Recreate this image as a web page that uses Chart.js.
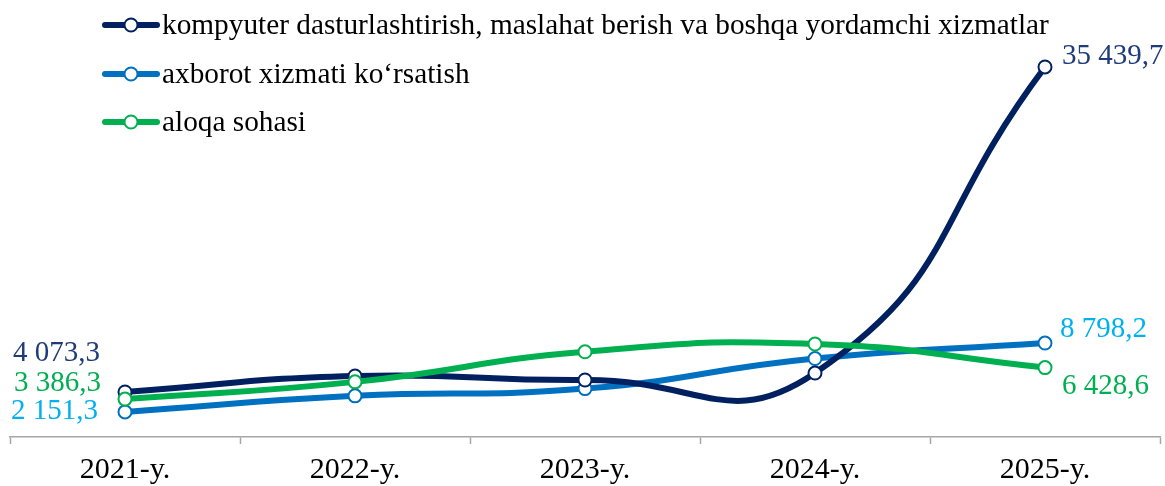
<!DOCTYPE html>
<html>
<head>
<meta charset="utf-8">
<script src="https://cdn.jsdelivr.net/npm/chart.js@4"></script>
<style>
  html, body { margin: 0; padding: 0; background: #ffffff; }
  #wrap { width: 1165px; height: 486px; position: relative; }
</style>
</head>
<body>
<div id="wrap"><canvas id="itgraph"></canvas></div>
<script>
// data (first and last years are labelled, the rest are estimates)
let years = ["2021-y.", "2022-y.", "2023-y.", "2024-y.", "2025-y."];
let names = [
    "kompyuter dasturlashtirish, maslahat berish va boshqa yordamchi xizmatlar",
    "axborot xizmati ko\u2018rsatish",
    "aloqa sohasi"
];
let kompyuter = [4073.3, 5620, 5230, 5900, 35439.7];
let axborot = [2151.3, 3700, 4400, 7300, 8798.2];
let aloqa = [3386.3, 5050, 7950, 8700, 6428.6];

let lineColors = ["#002060", "#0070C0", "#00B050"];
let labelColors = ["#1F3B7A", "#00B0F0", "#00B050"];

const serif = "'Liberation Serif', 'Times New Roman', serif";

function fmt(v) {
    let parts = v.toFixed(1).split(".");
    let whole = parts[0].replace(/\B(?=(\d{3})+(?!\d))/g, " ");
    return whole + "," + parts[1];
}

// offsets of the first / last value labels from their points
const firstLabel = [[-25, -39], [-27, -1], [-24, -16]];
const lastLabel = [[17, -11], [15, -14], [17, 19]];

const valueLabels = {
    id: "valueLabels",
    afterDatasetsDraw(chart) {
        const ctx = chart.ctx;
        ctx.save();
        ctx.font = "29px " + serif;
        ctx.textBaseline = "middle";
        chart.data.datasets.forEach((ds, i) => {
            const pts = chart.getDatasetMeta(i).data;
            const n = pts.length - 1;
            ctx.fillStyle = labelColors[i];
            ctx.textAlign = "right";
            ctx.fillText(fmt(ds.data[0]), pts[0].x + firstLabel[i][0], pts[0].y + firstLabel[i][1]);
            ctx.textAlign = "left";
            ctx.fillText(fmt(ds.data[n]), pts[n].x + lastLabel[i][0], pts[n].y + lastLabel[i][1]);
        });
        ctx.restore();
    }
};

const sideLegend = {
    id: "sideLegend",
    afterDraw(chart) {
        const ctx = chart.ctx;
        ctx.save();
        const rows = [25, 74, 122];
        chart.data.datasets.forEach((ds, i) => {
            const y = rows[i];
            ctx.strokeStyle = lineColors[i];
            ctx.lineWidth = 6;
            ctx.lineCap = "round";
            ctx.beginPath();
            ctx.moveTo(105, y);
            ctx.lineTo(157, y);
            ctx.stroke();
            ctx.beginPath();
            ctx.arc(131, y, 6.5, 0, Math.PI * 2);
            ctx.fillStyle = "#ffffff";
            ctx.fill();
            ctx.lineWidth = 2;
            ctx.stroke();
            ctx.fillStyle = "#000000";
            ctx.font = "29.3px " + serif;
            ctx.textBaseline = "middle";
            ctx.textAlign = "left";
            ctx.fillText(ds.label, 162, y + 1);
        });
        ctx.restore();
    }
};

function series(i, values, order) {
    return {
        label: names[i],
        data: values,
        borderColor: lineColors[i],
        backgroundColor: "#ffffff",
        borderWidth: 6,
        pointRadius: 6.5,
        pointHoverRadius: 6.5,
        pointBorderWidth: 2,
        pointBorderColor: lineColors[i],
        pointBackgroundColor: "#ffffff",
        tension: 0.5,
        order: order
    };
}

var itctx = document.getElementById("itgraph");
var itchart = new Chart(itctx, {
    type: "line",
    data: {
        labels: years,
        datasets: [
            series(0, kompyuter, 1),
            series(1, axborot, 2),
            series(2, aloqa, 0)
        ]
    },
    options: {
        responsive: true,
        maintainAspectRatio: false,
        animation: false,
        layout: { autoPadding: false, padding: { top: 0, left: 10, right: 5, bottom: 0 } },
        plugins: {
            legend: { display: false },
            tooltip: { enabled: false }
        },
        scales: {
            x: {
                offset: true,
                afterFit: scale => { scale.height = 49; },
                grid: {
                    offset: true,
                    drawOnChartArea: false,
                    drawTicks: true,
                    tickLength: 7,
                    tickColor: "#A6A6A6",
                    tickWidth: 1.5
                },
                border: { color: "#A6A6A6", width: 1.5 },
                ticks: {
                    color: "#000000",
                    padding: 12,
                    font: { family: serif, size: 30, lineHeight: 0.96 }
                }
            },
            y: {
                display: false,
                min: -270,
                max: 41900
            }
        }
    },
    plugins: [valueLabels, sideLegend]
});
</script>
</body>
</html>
